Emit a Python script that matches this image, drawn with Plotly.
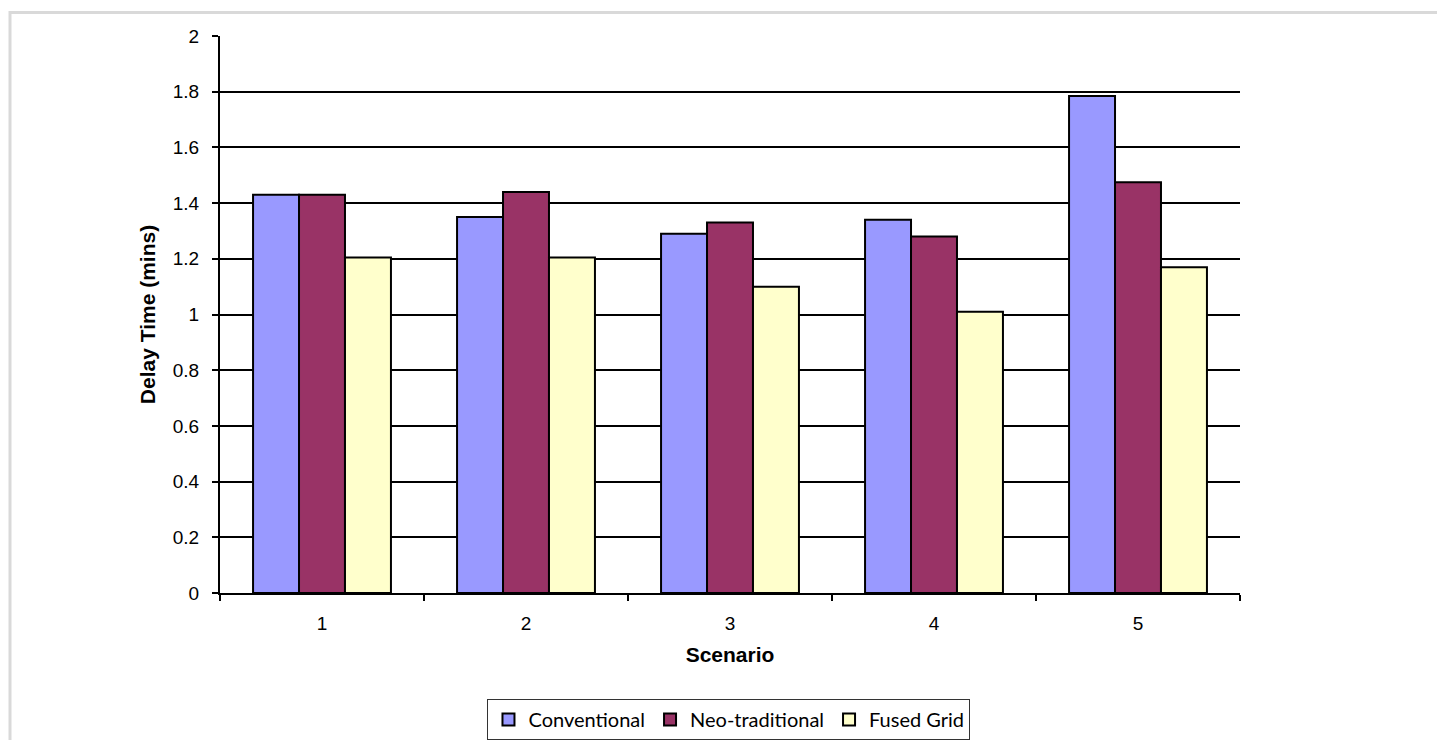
import plotly.graph_objects as go

scenarios = ["1", "2", "3", "4", "5"]
conventional = [1.43, 1.35, 1.29, 1.34, 1.785]
neo_traditional = [1.43, 1.44, 1.33, 1.28, 1.475]
fused_grid = [1.205, 1.205, 1.10, 1.01, 1.17]

series = [
    ("Conventional", conventional, "#9999FF"),
    ("Neo-traditional", neo_traditional, "#993366"),
    ("Fused Grid", fused_grid, "#FFFFCC"),
]

W, H = 1437, 740
L, R, T, B = 220, 1240, 36, 593
SANS = "Liberation Sans"

fig = go.Figure()
for name, vals, color in series:
    fig.add_trace(go.Bar(
        x=scenarios, y=vals, name=name,
        marker=dict(color=color, line=dict(color="black", width=2)),
    ))

def px_x(p):
    return (p - L) / (R - L)

def px_y(p):
    return (B - p) / (B - T)

# light grey page frame (top and left edges)
fig.add_shape(type="line", xref="paper", yref="paper",
              x0=px_x(10), x1=px_x(W + 5), y0=px_y(12.5), y1=px_y(12.5),
              line=dict(color="#d9d9d9", width=3))
fig.add_shape(type="line", xref="paper", yref="paper",
              x0=px_x(10), x1=px_x(10), y0=px_y(11), y1=px_y(H + 5),
              line=dict(color="#d9d9d9", width=3))

fig.update_layout(
    width=W, height=H,
    margin=dict(l=L, r=W - R, t=T, b=H - B, autoexpand=False),
    paper_bgcolor="white", plot_bgcolor="white",
    barmode="group", bargap=0.324, bargroupgap=0,
    font=dict(family=SANS, size=19, color="black"),
    showlegend=True,
    legend=dict(
        orientation="h", x=0.499, xanchor="center", y=px_y(699), yanchor="top",
        bordercolor="#333333", borderwidth=1,
        font=dict(family="Lato", size=20, color="black"),
        itemwidth=30, tracegroupgap=0,
    ),
    xaxis=dict(
        type="category", tickson="boundaries",
        showline=True, linecolor="black", linewidth=2,
        ticks="outside", ticklen=6, tickwidth=2, tickcolor="black",
        ticklabelstandoff=12,
        showgrid=False,
        title=dict(text="<b>Scenario</b>", font=dict(family=SANS, size=21), standoff=15),
        tickfont=dict(family=SANS, size=19),
    ),
    yaxis=dict(
        range=[0, 2], dtick=0.2, tickformat="~g",
        showline=True, linecolor="black", linewidth=2,
        ticks="outside", ticklen=6, tickwidth=2, tickcolor="black",
        ticklabelstandoff=9,
        showgrid=True, gridcolor="black", gridwidth=2,
        zeroline=False,
        title=dict(text="<b>Delay Time (mins)</b>", font=dict(family=SANS, size=21), standoff=11),
        tickfont=dict(family=SANS, size=19),
    ),
)

fig.write_html("out.html")
